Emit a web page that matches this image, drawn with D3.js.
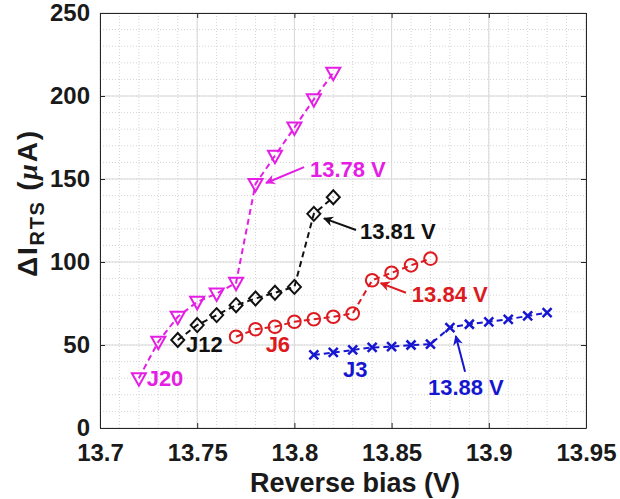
<!DOCTYPE html>
<html>
<head>
<meta charset="utf-8">
<script src="https://cdn.jsdelivr.net/npm/d3@7"></script>
<style>
  body { margin: 0; background: #fff; }
  text { font-family: Arial, "Liberation Sans", sans-serif; font-weight: bold; }
</style>
</head>
<body>
<script>
// reverse bias (V) per series
const biasJ20 = [13.72, 13.73, 13.74, 13.75, 13.76, 13.77, 13.78, 13.79, 13.80, 13.81, 13.82];
const rtsJ20  = [30, 52, 67, 76, 81, 87.5, 147, 164, 181, 198, 214];

const biasJ12 = [13.74, 13.75, 13.76, 13.77, 13.78, 13.79, 13.80, 13.81, 13.82];
const rtsJ12  = [53, 62, 68, 74, 78, 81.5, 85, 129, 139];

const biasJ6 = [13.77, 13.78, 13.79, 13.80, 13.81, 13.82, 13.83, 13.84, 13.85, 13.86, 13.87];
const rtsJ6  = [55, 59.5, 61, 64, 65.5, 67, 69, 89, 93.5, 98, 102];

const biasJ3 = [13.81, 13.82, 13.83, 13.84, 13.85, 13.86, 13.87, 13.88, 13.89, 13.90, 13.91, 13.92, 13.93];
const rtsJ3  = [44, 45.5, 47, 48.5, 49, 50, 50.5, 60.5, 62.5, 64, 65.5, 67.5, 69.5];

const xTicks = [13.7, 13.75, 13.8, 13.85, 13.9, 13.95];
const yTicks = [0, 50, 100, 150, 200, 250];

const width = 620, height = 499;
const margin = {top: 13, right: 34, bottom: 71, left: 100};

const series = [
  {name: "J20", x: biasJ20, y: rtsJ20, color: "#e41ee4", marker: "tri"},
  {name: "J12", x: biasJ12, y: rtsJ12, color: "#111111", marker: "diamond"},
  {name: "J6",  x: biasJ6,  y: rtsJ6,  color: "#dc1a20", marker: "circle"},
  {name: "J3",  x: biasJ3,  y: rtsJ3,  color: "#1616d0", marker: "cross"}
];

// text labels and arrows, in data units
const labels = [
  {text: "J20", x: 13.724, y: 25.3, color: "#e41ee4"},
  {text: "J12", x: 13.7442, y: 46, color: "#111111"},
  {text: "J6",  x: 13.7852, y: 46, color: "#dc1a20"},
  {text: "J3",  x: 13.825, y: 30.9, color: "#1616d0"},
  {text: "13.78 V", x: 13.808, y: 151.2, color: "#e41ee4"},
  {text: "13.81 V", x: 13.8337, y: 113.9, color: "#111111"},
  {text: "13.84 V", x: 13.8604, y: 76.1, color: "#dc1a20"},
  {text: "13.88 V", x: 13.8687, y: 19.9, color: "#1616d0"}
];
const arrows = [
  {x0: 13.805, y0: 157.2, x1: 13.7854, y1: 147.6, color: "#e41ee4"},
  {x0: 13.8317, y0: 119.3, x1: 13.8152, y1: 126.3, color: "#111111"},
  {x0: 13.8574, y0: 81.5, x1: 13.8444, y1: 87.3, color: "#dc1a20"},
  {x0: 13.8878, y0: 33.9, x1: 13.883, y1: 55.4, color: "#1616d0"}
];

const x = d3.scaleLinear().domain([13.7, 13.95]).range([margin.left, width - margin.right]);
const y = d3.scaleLinear().domain([0, 250]).range([height - margin.bottom, margin.top]);

const svg = d3.select("body").append("svg")
    .attr("width", width)
    .attr("height", height);

// minor grid (dotted)
const xMinor = d3.range(13.7, 13.9501, 0.01).map(v => +v.toFixed(2));
const yMinor = d3.range(0, 251, 10);
svg.append("g")
    .attr("stroke", "#d4d4d4")
    .attr("stroke-dasharray", "1,2")
  .call(g => g.selectAll("line.vx")
    .data(xMinor)
    .join("line")
      .attr("x1", d => x(d)).attr("x2", d => x(d))
      .attr("y1", y(0)).attr("y2", y(250)))
  .call(g => g.selectAll("line.hy")
    .data(yMinor)
    .join("line")
      .attr("x1", x(13.7)).attr("x2", x(13.95))
      .attr("y1", d => y(d)).attr("y2", d => y(d)));

// major grid
svg.append("g")
    .attr("stroke", "#d8d8d8")
    .attr("stroke-width", 1)
  .call(g => g.selectAll("line.gx")
    .data(xTicks)
    .join("line")
      .attr("x1", d => x(d)).attr("x2", d => x(d))
      .attr("y1", y(0)).attr("y2", y(250)))
  .call(g => g.selectAll("line.gy")
    .data(yTicks)
    .join("line")
      .attr("x1", x(13.7)).attr("x2", x(13.95))
      .attr("y1", d => y(d)).attr("y2", d => y(d)));

const tickText = g => g.selectAll(".tick text")
    .attr("font-size", 24)
    .attr("font-family", "Arial, 'Liberation Sans', sans-serif")
    .attr("font-weight", "bold")
    .attr("fill", "#1a1a1a");

// axes
const xAxis = g => g
    .attr("transform", `translate(0,${y(0)})`)
    .call(d3.axisBottom(x).tickValues(xTicks).tickSizeInner(-5).tickSizeOuter(0).tickPadding(16)
      .tickFormat(d => String(+d.toFixed(2))))
    .call(g => g.select(".domain").attr("stroke", "#262626"))
    .call(g => g.selectAll(".tick line").attr("stroke", "#262626"))
    .call(tickText);

const yAxis = g => g
    .attr("transform", `translate(${x(13.7)},0)`)
    .call(d3.axisLeft(y).tickValues(yTicks).tickSizeInner(-5).tickSizeOuter(0).tickPadding(10))
    .call(g => g.select(".domain").attr("stroke", "#262626"))
    .call(g => g.selectAll(".tick line").attr("stroke", "#262626"))
    .call(tickText);

svg.append("g").call(xAxis);
svg.append("g").call(yAxis);

// top and right box with inward ticks
svg.append("g")
    .attr("transform", `translate(0,${y(250)})`)
    .call(d3.axisTop(x).tickValues(xTicks).tickSizeInner(-5).tickSizeOuter(0).tickFormat(""))
    .call(g => g.selectAll("line, path").attr("stroke", "#262626"));
svg.append("g")
    .attr("transform", `translate(${x(13.95)},0)`)
    .call(d3.axisRight(y).tickValues(yTicks).tickSizeInner(-5).tickSizeOuter(0).tickFormat(""))
    .call(g => g.selectAll("line, path").attr("stroke", "#262626"));

// axis titles
svg.append("text")
    .attr("x", 355)
    .attr("y", 492)
    .attr("text-anchor", "middle")
    .attr("font-size", 27)
    .attr("fill", "#1a1a1a")
    .text("Reverse bias (V)");

const yTitle = svg.append("text")
    .attr("transform", `translate(37,204) rotate(-90)`)
    .attr("text-anchor", "middle")
    .attr("font-size", 28)
    .attr("textLength", 146)
    .attr("lengthAdjust", "spacing")
    .attr("fill", "#1a1a1a");
yTitle.append("tspan").text("ΔI");
yTitle.append("tspan").attr("font-size", 20).attr("dy", 7).text("RTS");
yTitle.append("tspan").attr("dy", -7).text(" (");
yTitle.append("tspan").attr("font-style", "italic").attr("font-family", "'Times New Roman', 'Liberation Serif', serif").text("μ");
yTitle.append("tspan").text("A)");

// series
const line = d3.line();
const markerPath = {
  tri: "M-7,-5L7,-5L0,7.5Z",
  diamond: "M0,-7L6.5,0L0,7L-6.5,0Z",
  circle: d3.symbol(d3.symbolCircle, 125)(),
  cross: "M-4.5,-4.5L4.5,4.5M-4.5,4.5L4.5,-4.5"
};

for (const s of series) {
  const pts = s.x.map((v, i) => [x(v), y(s.y[i])]);
  svg.append("path")
      .attr("d", line(pts))
      .attr("fill", "none")
      .attr("stroke", s.color)
      .attr("stroke-width", 2)
      .attr("stroke-dasharray", "6,4");
  svg.append("g")
    .selectAll("path")
    .data(pts)
    .join("path")
      .attr("transform", d => `translate(${d[0]},${d[1]})`)
      .attr("d", markerPath[s.marker])
      .attr("fill", "none")
      .attr("stroke", s.color)
      .attr("stroke-width", s.marker === "cross" ? 2.5 : 2);
}

// arrows
const defs = svg.append("defs");
arrows.forEach((a, i) => {
  defs.append("marker")
      .attr("id", "ah" + i)
      .attr("viewBox", "0 0 10 10")
      .attr("refX", 9).attr("refY", 5)
      .attr("markerWidth", 5).attr("markerHeight", 5)
      .attr("markerUnits", "strokeWidth")
      .attr("orient", "auto")
    .append("path")
      .attr("d", "M0,0L10,5L0,10L3,5Z")
      .attr("fill", a.color);
  svg.append("line")
      .attr("x1", x(a.x0)).attr("y1", y(a.y0))
      .attr("x2", x(a.x1)).attr("y2", y(a.y1))
      .attr("stroke", a.color)
      .attr("stroke-width", 2)
      .attr("marker-end", `url(#ah${i})`);
});

// labels
svg.append("g")
  .selectAll("text")
  .data(labels)
  .join("text")
    .attr("x", d => x(d.x))
    .attr("y", d => y(d.y))
    .attr("font-size", 22)
    .attr("fill", d => d.color)
    .text(d => d.text);
</script>
</body>
</html>
